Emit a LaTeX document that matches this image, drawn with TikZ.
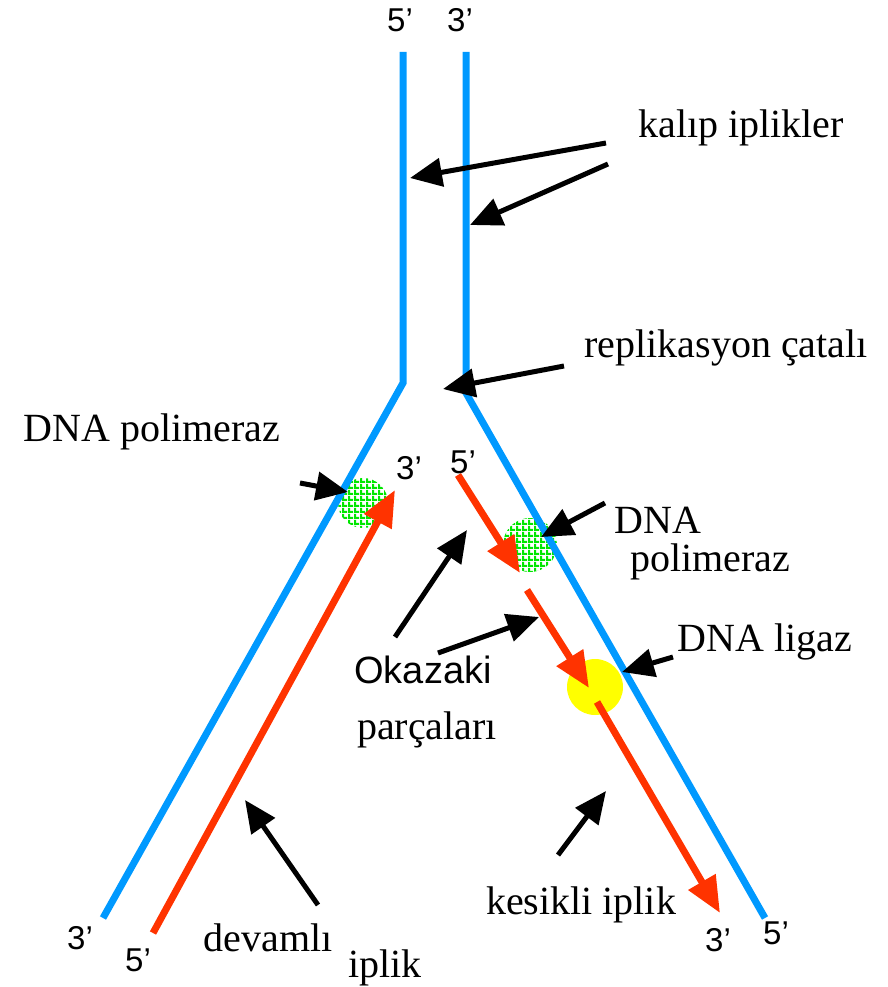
\documentclass[tikz,border=0pt]{standalone}
\usepackage{fontspec}
\setmainfont{Liberation Serif}
\newfontfamily\numfont{Liberation Sans}
\usepackage{tikz}
\usetikzlibrary{arrows.meta,patterns.meta}

\definecolor{tmplblue}{RGB}{0,153,255}
\definecolor{newred}{RGB}{255,51,0}
\definecolor{polgreen}{RGB}{0,230,0}
\definecolor{ligyellow}{RGB}{255,255,0}

\tikzdeclarepattern{name=dotgrid, type=uncolored,
  bounding box={(0pt,0pt) and (6pt,6pt)}, tile size={(6pt,6pt)},
  code={\fill (0pt,0pt) rectangle (6pt,2.5pt); \fill (0pt,0pt) rectangle (2.5pt,6pt);}}

\tikzset{
  strand/.style={tmplblue, line width=7pt},
  newstrand/.style={newred, line width=7pt, -{Triangle[length=36pt,width=30pt]}},
  pointer/.style={black, line width=5pt, -{Triangle[length=32pt,width=28pt]}},
  lbl/.style={font=\fontsize{40}{44}\selectfont, inner sep=0pt},
  prime/.style={font=\numfont\fontsize{33}{36}\selectfont, inner sep=0pt}
}

\begin{document}
\begin{tikzpicture}[x=1pt,y=-1pt]
\useasboundingbox (0,0) rectangle (887,987);
% template strands
\coordinate (ltop) at (403,52);
\coordinate (lfork) at (403,383);
\coordinate (lend) at (103,918);
\coordinate (rtop) at (466,52);
\coordinate (rfork) at (466,393);
\coordinate (rend) at (765,918);

% enzymes
\fill[ligyellow] (595,687) circle (28);
\fill[pattern={dotgrid}, pattern color=polgreen] (363,503) circle (25);
\fill[pattern={dotgrid}, pattern color=polgreen] (530,545) circle (27);

\draw[strand] (ltop) -- (lfork) -- (lend);
\draw[strand] (rtop) -- (rfork) -- (rend);

% new strands
\coordinate (lead5) at (153,933);
\coordinate (lead3) at (395,490);
\draw[newstrand] (lead5) -- (lead3);
\coordinate (frag1a) at (458,475);
\coordinate (frag1b) at (520,573);
\coordinate (frag2a) at (527,590);
\coordinate (frag2b) at (589,688);
\coordinate (frag3a) at (597,702);
\coordinate (frag3b) at (720,913);
\draw[newstrand] (frag1a) -- (frag1b);
\draw[newstrand] (frag2a) -- (frag2b);
\draw[newstrand] (frag3a) -- (frag3b);

% ends
\node[prime] (p5top) at (400,20) {5’};
\node[prime] (p3top) at (460,20) {3’};
\node[prime] (p3lead) at (409,468) {3’};
\node[prime] (p5frag) at (463,462) {5’};
\node[prime] (p3bl) at (80,938) {3’};
\node[prime] (p5bl) at (138,960) {5’};
\node[prime] (p3br) at (718,940) {3’};
\node[prime] (p5br) at (776,933) {5’};

% labels
\node[lbl] (kalip) at (741,128) {kalıp iplikler};
\node[lbl] (catal) at (726,348) {replikasyon çatalı};
\node[lbl] (polL) at (152,432) {DNA polimeraz};
\node[lbl] (polRa) at (658,520) {DNA};
\node[lbl] (polRb) at (710,562) {polimeraz};
\node[lbl] (ligaz) at (765,642) {DNA ligaz};
\node[prime, font=\numfont\fontsize{38}{42}\selectfont] (okazaki) at (423,670) {Okazaki};
\node[lbl] (parca) at (427,730) {parçaları};
\node[lbl] (devam) at (268,938) {devamlı};
\node[lbl] (iplikL) at (385,968) {iplik};
\node[lbl] (kesik) at (581,905) {kesikli iplik};

% pointers
\coordinate (k1) at (606,143);
\coordinate (k1t) at (410,178);
\coordinate (k2) at (608,164);
\coordinate (k2t) at (470,225);
\coordinate (c1) at (564,366);
\coordinate (c1t) at (443,389);
\coordinate (pl) at (300,483);
\coordinate (plt) at (348,492);
\coordinate (pr) at (605,503);
\coordinate (prt) at (541,537);
\coordinate (lg) at (673,657);
\coordinate (lgt) at (622,672);
\coordinate (o1) at (395,637);
\coordinate (o1t) at (467,530);
\coordinate (o2) at (438,653);
\coordinate (o2t) at (539,617);
\coordinate (d1) at (318,905);
\coordinate (d1t) at (245,800);
\coordinate (s1) at (558,855);
\coordinate (s1t) at (606,791);
\draw[pointer] (k1) -- (k1t);
\draw[pointer] (k2) -- (k2t);
\draw[pointer] (c1) -- (c1t);
\draw[pointer] (pl) -- (plt);
\draw[pointer] (pr) -- (prt);
\draw[pointer] (lg) -- (lgt);
\draw[pointer] (o1) -- (o1t);
\draw[pointer] (o2) -- (o2t);
\draw[pointer] (d1) -- (d1t);
\draw[pointer] (s1) -- (s1t);
\end{tikzpicture}
\end{document}
